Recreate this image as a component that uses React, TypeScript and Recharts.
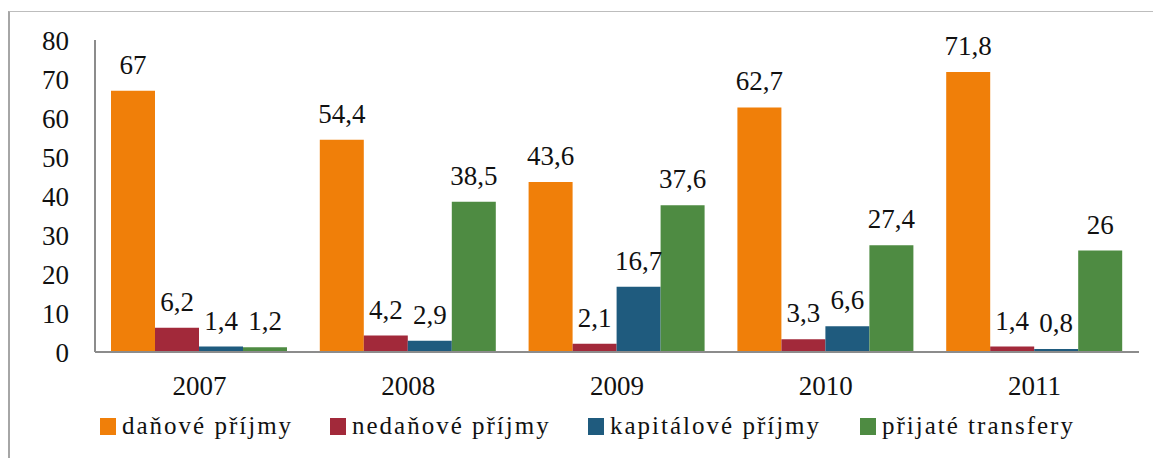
import { BarChart, Bar, XAxis, YAxis, Legend, LabelList } from 'recharts';

const years = ['2007', '2008', '2009', '2010', '2011'];
const danove = [67, 54.4, 43.6, 62.7, 71.8];
const nedanove = [6.2, 4.2, 2.1, 3.3, 1.4];
const kapitalove = [1.4, 2.9, 16.7, 6.6, 0.8];
const transfery = [1.2, 38.5, 37.6, 27.4, 26];
const yTicks = [0, 10, 20, 30, 40, 50, 60, 70, 80];

const series = [
  { key: 'danove', name: 'daňové příjmy', color: '#F07F09', w: 230 },
  { key: 'nedanove', name: 'nedaňové příjmy', color: '#A2293A', w: 258 },
  { key: 'kapitalove', name: 'kapitálové příjmy', color: '#1F5B7E', w: 272 },
  { key: 'transfery', name: 'přijaté transfery', color: '#4E8B42', w: 240 },
];

const data = years.map((year, i) => ({
  year,
  danove: danove[i],
  nedanove: nedanove[i],
  kapitalove: kapitalove[i],
  transfery: transfery[i],
}));

const FONT = '"Liberation Serif", "DejaVu Serif", serif';
const fmt = (v: any) => String(v).replace('.', ',');

function LegendContent() {
  return (
    <div style={{ display: 'flex', alignItems: 'center', height: 30, paddingLeft: 100, fontFamily: FONT, fontSize: 25, letterSpacing: 2, color: '#111', whiteSpace: 'nowrap' }}>
      {series.map((s) => (
        <div key={s.key} style={{ display: 'flex', alignItems: 'center', width: s.w, flex: 'none' }}>
          <span style={{ display: 'inline-block', width: 16, height: 17, background: s.color, marginRight: 6 }} />
          <span>{s.name}</span>
        </div>
      ))}
    </div>
  );
}

export default function App() {
  return (
    <div style={{ position: 'absolute', left: 0, top: 0, width: 1153, height: 458, overflow: 'hidden', background: '#fff' }}>
      <div
        style={{
          position: 'absolute',
          left: 8,
          top: 11,
          width: 1160,
          height: 470,
          borderTop: '1px solid #bdbdbd',
          borderLeft: '2px solid #a6a6a6',
        }}
      />
      <BarChart
        width={1153}
        height={458}
        data={data}
        margin={{ top: 40, right: 14, left: 0, bottom: 36 }}
        barCategoryGap={16}
        barGap={0}
        style={{ position: 'absolute', left: 0, top: 0 }}
      >
        <XAxis
          dataKey="year"
          height={40}
          axisLine={{ stroke: '#8c8c8c', strokeWidth: 2 }}
          tickLine={false}
          tickSize={0}
          tickMargin={24}
          tick={{ fill: '#111', fontFamily: FONT, fontSize: 27 }}
        />
        <YAxis
          width={95}
          domain={[0, 80]}
          ticks={yTicks}
          interval={0}
          axisLine={{ stroke: '#8c8c8c', strokeWidth: 2 }}
          tickLine={false}
          tickSize={0}
          tickMargin={26}
          tick={{ fill: '#111', fontFamily: FONT, fontSize: 27 }}
        />
        <Legend verticalAlign="bottom" content={<LegendContent />} wrapperStyle={{ top: 411, left: 0, width: 1153, height: 30 }} />
        {series.map((s) => (
          <Bar key={s.key} dataKey={s.key} name={s.name} fill={s.color} isAnimationActive={false}>
            <LabelList
              dataKey={s.key}
              position="top"
              offset={17}
              formatter={fmt}
              style={{ fill: '#111', fontFamily: FONT, fontSize: 27 }}
            />
          </Bar>
        ))}
      </BarChart>
    </div>
  );
}
